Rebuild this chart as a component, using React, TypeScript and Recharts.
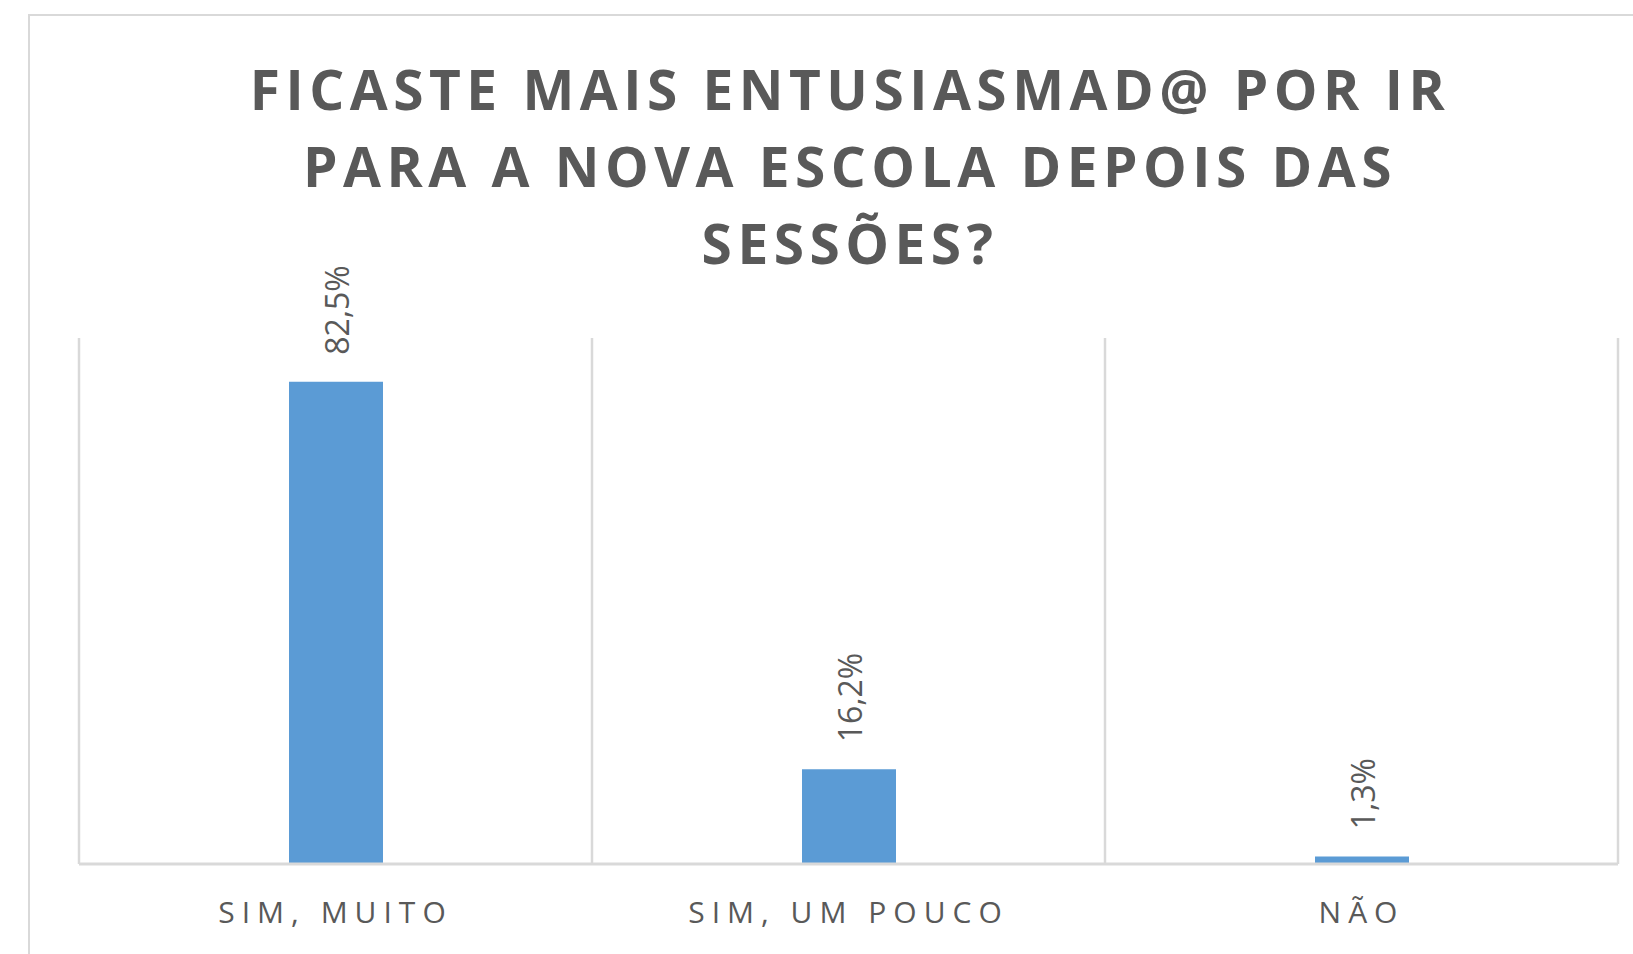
import React from "react";
import { BarChart, Bar, XAxis, YAxis, CartesianGrid, LabelList } from "recharts";

const categories = ["SIM, MUITO", "SIM, UM POUCO", "NÃO"];
const values = [82.5, 16.2, 1.3];
const valueLabels = ["82,5%", "16,2%", "1,3%"];
const titleLines = ["FICASTE MAIS ENTUSIASMAD@ POR IR", "PARA A NOVA ESCOLA DEPOIS DAS", "SESSÕES?"];

const data = categories.map((c, i) => ({ name: c, value: values[i], label: valueLabels[i] }));

const W = 1633;
const H = 954;
const TEXT = "#595959";
const GRID = "#d9d9d9";
const FONT = "'Open Sans', sans-serif";

const Tick = (props: any) => {
  const { x, y, payload } = props;
  return (
    <text
      x={x}
      y={y + 59}
      textAnchor="middle"
      fill={TEXT}
      style={{ fontFamily: FONT, fontSize: 30, letterSpacing: 7 }}
    >
      {payload.value}
    </text>
  );
};

const ValueLabel = (props: any) => {
  const { x, y, width, index } = props;
  const ax = Number(x) + Number(width) / 2 + 13;
  const ay = Number(y) - 27;
  return (
    <text
      x={ax}
      y={ay}
      transform={`rotate(-90 ${ax} ${ay})`}
      textAnchor="start"
      fill={TEXT}
      style={{ fontFamily: FONT, fontSize: 32 }}
    >
      {data[index].label}
    </text>
  );
};

export default function App() {
  return (
    <div
      style={{
        position: "absolute",
        left: 0,
        top: 0,
        width: W,
        height: H,
        overflow: "hidden",
        background: "#ffffff",
      }}
    >
      <div
        style={{
          position: "absolute",
          left: 28,
          top: 14,
          width: 3000,
          height: 3000,
          border: `2px solid ${GRID}`,
          boxSizing: "border-box",
        }}
      />
      <div style={{ position: "absolute", left: 0, top: 0 }}>
        <BarChart
          width={W}
          height={H}
          data={data}
          margin={{ top: 338, right: 15, bottom: 0, left: 79 }}
        >
          <CartesianGrid
            horizontal={false}
            vertical={true}
            stroke={GRID}
            strokeWidth={2.5}
            verticalCoordinatesGenerator={({ offset }: any) => {
              const n = categories.length;
              const pts: number[] = [];
              for (let i = 0; i <= n; i++) pts.push(offset.left + (offset.width * i) / n);
              return pts;
            }}
          />
          <XAxis
            dataKey="name"
            height={90}
            axisLine={{ stroke: GRID, strokeWidth: 3 }}
            tickLine={false}
            tickSize={0}
            tickMargin={0}
            interval={0}
            tick={<Tick />}
          />
          <YAxis hide domain={[0, 90]} />
          <Bar dataKey="value" fill="#5b9bd5" barSize={94} isAnimationActive={false}>
            <LabelList dataKey="value" content={<ValueLabel />} />
          </Bar>
        </BarChart>
      </div>
      <svg
        width={W}
        height={H}
        style={{ position: "absolute", left: 0, top: 0, pointerEvents: "none" }}
      >
        {titleLines.map((t, i) => (
          <text
            key={i}
            x={850}
            y={110 + i * 77}
            textAnchor="middle"
            fill={TEXT}
            style={{ fontFamily: FONT, fontSize: 55, fontWeight: 700, letterSpacing: 5.5 }}
          >
            {t}
          </text>
        ))}
      </svg>
    </div>
  );
}
